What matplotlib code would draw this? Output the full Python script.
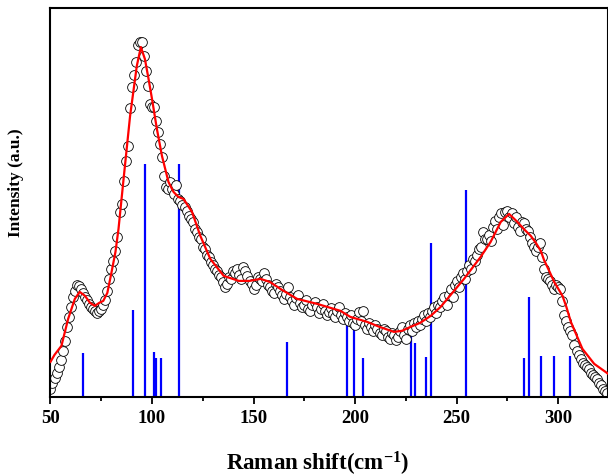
import matplotlib
matplotlib.use('Agg')
import matplotlib.pyplot as plt
from matplotlib.ticker import MultipleLocator

plt.rcParams['font.family'] = ['Liberation Serif', 'DejaVu Serif']
plt.rcParams['font.weight'] = 'bold'
plt.rcParams['mathtext.fontset'] = 'custom'
plt.rcParams['mathtext.rm'] = 'Liberation Serif:bold'
plt.rcParams['mathtext.default'] = 'rm'

# measured spectrum, one point per cm-1 from 50 to 324
shift = list(range(50, 325))
intensity = [
    8, 14, 19, 24, 30, 37, 46, 56, 70, 80,
    90, 100, 106, 112, 111, 108, 104, 100, 97, 93,
    90, 88, 86, 84, 86, 88, 92, 97, 106, 118,
    128, 136, 146, 160, 185, 193, 216, 236, 251, 289,
    310, 322, 335, 352, 355, 355, 341, 326, 311, 293,
    290, 290, 276, 265, 253, 240, 221, 210, 208, 215,
    208, 203, 212, 198, 196, 192, 190, 186, 181, 178,
    175, 168, 165, 160, 158, 150, 148, 142, 140, 135,
    132, 128, 126, 122, 120, 115, 110, 113, 120, 118,
    126, 124, 128, 122, 118, 130, 126, 121, 116, 113,
    108, 112, 120, 118, 116, 124, 118, 112, 110, 106,
    104, 113, 110, 106, 102, 98, 103, 110, 100, 96,
    92, 99, 102, 94, 90, 92, 97, 88, 86, 92,
    95, 90, 84, 88, 93, 86, 82, 85, 89, 83,
    80, 86, 90, 82, 78, 84, 80, 76, 82, 74,
    72, 78, 85, 76, 86, 72, 68, 74, 70, 66,
    72, 68, 64, 62, 68, 66, 60, 58, 64, 62,
    57, 60, 66, 70, 62, 58, 68, 72, 66, 74,
    70, 76, 72, 78, 82, 76, 84, 80, 86, 90,
    84, 92, 90, 96, 100, 92, 102, 108, 100, 112,
    116, 110, 120, 124, 118, 126, 132, 128, 138, 136,
    142, 148, 150, 165, 158, 158, 162, 156, 170, 176,
    168, 180, 184, 172, 185, 186, 180, 184, 174, 180,
    170, 166, 175, 174, 168, 166, 160, 154, 150, 146,
    150, 154, 140, 128, 120, 118, 116, 112, 108, 112,
    110, 108, 96, 82, 76, 70, 66, 62, 52, 46,
    42, 38, 34, 32, 30, 28, 24, 22, 20, 18,
    14, 12, 8, 6, 4,
]

# fitted curve
fit_x = [50, 52, 55.4, 58.7, 62, 64.4, 67, 69.5, 71.8, 74, 76, 78, 80, 82,
         83.5, 86, 89.2, 92.5, 94.5, 96.5, 98.3, 100, 102.4, 104.9, 108.1,
         110.6, 113, 115.5, 119.7, 123.8, 128.7, 135.3, 142.7, 148, 153.4,
         158, 163.2, 171.4, 181.3, 192.8, 197.6, 205.9, 212, 219.1, 223,
         227.3, 232, 237.2, 242.1, 245.4, 253.6, 261.8, 266.7, 271.7, 275.8,
         279.9, 283, 286.5, 289, 291.4, 293, 296, 298, 302.1, 304, 306.2,
         311.9, 317.7, 324.6]
fit_y = [35, 42, 51, 78, 98, 105, 101, 94, 91, 94, 96, 104, 124, 145,
         168, 218, 281, 331, 350, 338, 318, 298, 268, 241, 215,
         205, 200, 198, 185, 161, 138, 121, 116, 116, 118,
         115, 108, 98, 93, 86, 80, 75, 70, 65, 66,
         70, 74, 81, 90, 98, 118, 140, 155, 175, 183,
         175, 168, 161, 154, 146, 137, 124, 115, 101, 90, 75,
         48, 33, 23]

# calculated modes
mode_pos = [66.1, 90.4, 96.6, 101.2, 102.1, 104.4, 113.1, 166.5, 196.1,
            199.6, 203.8, 227.3, 229.3, 234.7, 237.2, 254.6, 283.0, 285.8,
            291.5, 297.8, 306.0]
mode_int = [44, 87, 233, 45, 39, 39, 233, 55, 76,
            71, 39, 76, 54, 40, 154, 207, 39, 100,
            41, 41, 41]

fig = plt.figure(figsize=(6.08, 4.77), dpi=100)
ax = fig.add_axes([0.083, 0.166, 0.917, 0.815])

ax.vlines(mode_pos, 0, mode_int, colors='#0000ff', linewidth=1.6, zorder=1)
ax.plot(shift, intensity, 'o', markerfacecolor='white', markeredgecolor='black',
        markersize=7, markeredgewidth=0.6, zorder=2)
ax.plot(fit_x, fit_y, '-', color='red', linewidth=1.6, zorder=3)

ax.set_xlim(50, 324.5)
ax.set_ylim(0, 389)
ax.xaxis.set_major_locator(MultipleLocator(50))
ax.xaxis.set_minor_locator(MultipleLocator(25))
ax.tick_params(axis='x', which='major', direction='out', length=5, width=1.3,
               labelsize=13.5, pad=4)
ax.tick_params(axis='x', which='minor', direction='out', length=3, width=1.3)
ax.set_yticks([])
for s in ax.spines.values():
    s.set_linewidth(1.5)

ax.set_xlabel('Raman shift(cm$^{-1}$)', fontsize=16.5, fontweight='bold')
ax.xaxis.set_label_coords(0.479, -0.135)
ax.set_ylabel('Intensity (a.u.)', fontsize=12.5, fontweight='bold')
ax.yaxis.set_label_coords(-0.048, 0.553)

fig.savefig('out.png', dpi=100)
